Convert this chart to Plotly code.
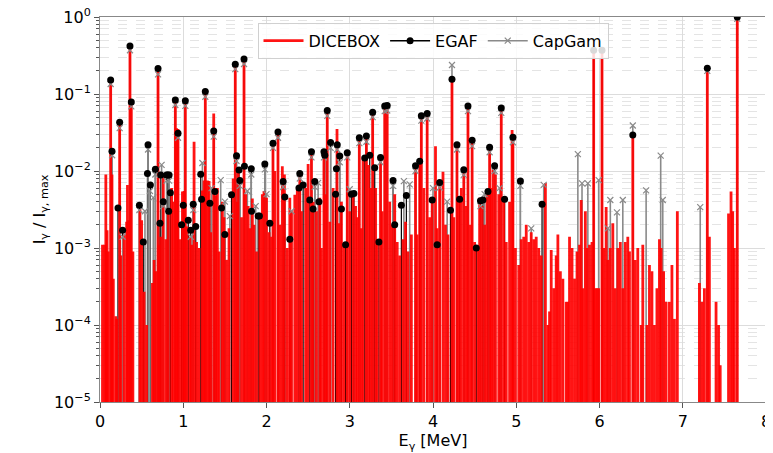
import plotly.graph_objects as go

# DICEBOX simulated line intensities (E in MeV, I / I_max)
DICEBOX_E = [
    0.030, 0.056, 0.070, 0.085, 0.100, 0.128, 0.144, 0.160, 0.190, 0.200, 0.236, 0.250, 0.290, 0.320,
    0.330, 0.345, 0.360, 0.376, 0.395, 0.480, 0.500, 0.530, 0.560, 0.630, 0.650, 0.670, 0.697, 0.710,
    0.730, 0.760, 0.790, 0.820, 0.860, 0.880, 0.905, 0.920, 0.937, 0.960, 0.990, 1.010, 1.025, 1.045,
    1.080, 1.100, 1.130, 1.160, 1.190, 1.230, 1.250, 1.265, 1.290, 1.310, 1.330, 1.366, 1.390, 1.410,
    1.430, 1.470, 1.490, 1.520, 1.550, 1.600, 1.625, 1.650, 1.660, 1.700, 1.730, 1.750, 1.780, 1.800,
    1.830, 1.850, 1.880, 1.920, 1.950, 1.970, 2.000, 2.030, 2.060, 2.078, 2.100, 2.138, 2.160, 2.190,
    2.215, 2.250, 2.280, 2.300, 2.340, 2.370, 2.400, 2.420, 2.470, 2.500, 2.540, 2.560, 2.600, 2.640,
    2.660, 2.690, 2.710, 2.730, 2.760, 2.800, 2.847, 2.870, 2.900, 2.930, 2.970, 3.000, 3.040, 3.070,
    3.090, 3.115, 3.140, 3.160, 3.200, 3.225, 3.250, 3.275, 3.310, 3.330, 3.370, 3.390, 3.420, 3.450,
    3.480, 3.510, 3.540, 3.570, 3.600, 3.640, 3.670, 3.700, 3.740, 3.790, 3.810, 3.840, 3.860, 3.890,
    3.930, 3.960, 3.990, 4.030, 4.050, 4.080, 4.120, 4.150, 4.180, 4.228, 4.250, 4.288, 4.310, 4.340,
    4.370, 4.400, 4.420, 4.450, 4.470, 4.500, 4.540, 4.560, 4.590, 4.620, 4.650, 4.680, 4.700, 4.720,
    4.750, 4.790, 4.820, 4.850, 4.880, 4.920, 4.950, 4.960, 4.990, 5.030, 5.060, 5.090, 5.120, 5.150,
    5.180, 5.210, 5.240, 5.270, 5.300, 5.350, 5.380, 5.400, 5.420, 5.450, 5.480, 5.500, 5.530, 5.560,
    5.600, 5.620, 5.640, 5.670, 5.700, 5.730, 5.760, 5.780, 5.800, 5.830, 5.850, 5.880, 5.910, 5.930,
    5.950, 5.970, 5.990, 6.030, 6.050, 6.080, 6.100, 6.130, 6.160, 6.190, 6.220, 6.250, 6.280, 6.310,
    6.340, 6.360, 6.400, 6.430, 6.460, 6.500, 6.520, 6.570, 6.600, 6.630, 6.660, 6.690, 6.720, 6.740,
    6.770, 6.800, 6.840, 6.870, 6.900, 6.935, 7.200, 7.230, 7.260, 7.295, 7.320, 7.400, 7.430, 7.450,
    7.550, 7.580, 7.600, 7.620, 7.655,
]
DICEBOX_I = [
    0.0011, 0.0011, 0.0090, 0.0017, 0.0009, 0.150, 0.0090, 0.0004, 0.00013, 0.00012, 0.045, 0.0008, 0.0015, 0.0022,
    0.0066, 0.0023, 0.43, 0.082, 0.0009, 0.0032, 0.0023, 0.00027, 0.0001, 0.00035, 0.0007, 0.0005, 0.215, 0.0011,
    0.0014, 0.0090, 0.0013, 0.0028, 0.0060, 0.0040, 0.083, 0.036, 0.035, 0.0013, 0.0054, 0.0055, 0.080, 0.0019,
    0.0014, 0.0011, 0.024, 0.0012, 0.0010, 0.0056, 0.0075, 0.100, 0.0075, 0.0074, 0.0016, 0.056, 0.0048, 0.0060,
    0.0009, 0.0040, 0.0025, 0.0007, 0.0018, 0.0080, 0.240, 0.0040, 0.0100, 0.0025, 0.280, 0.0050, 0.0035, 0.0018,
    0.0044, 0.0020, 0.0009, 0.0026, 0.0050, 0.0055, 0.0045, 0.0016, 0.0014, 0.021, 0.010, 0.030, 0.0020, 0.0115,
    0.0090, 0.0010, 0.0045, 0.0030, 0.0049, 0.0062, 0.0090, 0.0030, 0.0060, 0.0123, 0.0170, 0.0040, 0.0030, 0.0045,
    0.0010, 0.0170, 0.0050, 0.060, 0.0022, 0.0060, 0.035, 0.0021, 0.0040, 0.0011, 0.016, 0.0030, 0.0055, 0.0035,
    0.0025, 0.026, 0.0018, 0.0150, 0.028, 0.0120, 0.0060, 0.057, 0.0060, 0.0012, 0.0140, 0.0030, 0.075, 0.070,
    0.0040, 0.0020, 0.0050, 0.0012, 0.0008, 0.0013, 0.0022, 0.0009, 0.0015, 0.0110, 0.0015, 0.0130, 0.050, 0.0060,
    0.055, 0.0025, 0.0040, 0.021, 0.0018, 0.0070, 0.0098, 0.0020, 0.0015, 0.150, 0.0025, 0.021, 0.0040, 0.0060,
    0.0110, 0.0035, 0.068, 0.0020, 0.024, 0.0012, 0.0010, 0.0045, 0.0035, 0.0020, 0.0050, 0.0190, 0.0060, 0.0105,
    0.0090, 0.0050, 0.065, 0.0040, 0.0012, 0.0040, 0.034, 0.026, 0.0010, 0.0006, 0.0013, 0.0014, 0.0020, 0.0012,
    0.0016, 0.0013, 0.0014, 0.0010, 0.0008, 0.0070, 0.0001, 0.00015, 0.00094, 0.0003, 0.0008, 0.0015, 0.0005, 0.0004,
    0.0002, 0.0002, 0.0014, 0.0010, 0.0004, 0.0009, 0.0011, 0.0042, 0.0003, 0.0030, 0.0010, 0.0011, 0.0012, 0.36,
    0.0003, 0.0003, 0.0003, 0.36, 0.0010, 0.0034, 0.0007, 0.0010, 0.0021, 0.0003, 0.0010, 0.0012, 0.0003, 0.0012,
    0.0014, 0.0009, 0.030, 0.0007, 0.0010, 0.0001, 0.0011, 0.0001, 0.0006, 0.0005, 0.0001, 0.0003, 0.0013, 0.0010,
    0.0005, 0.0002, 0.0002, 0.0006, 0.00012, 0.0030, 0.00035, 0.0002, 0.0003, 0.215, 0.0014, 0.0002, 0.0001, 0.00003,
    0.0028, 0.0054, 0.0030, 0.0010, 0.95,
]

# EGAF evaluated intensities
EGAF_E = [
    0.128, 0.144, 0.216, 0.236, 0.272, 0.360, 0.376, 0.473, 0.520, 0.570, 0.577, 0.605, 0.665, 0.697,
    0.720, 0.730, 0.760, 0.800, 0.815, 0.825, 0.830, 0.845, 0.905, 0.937, 0.980, 1.000, 1.025, 1.060,
    1.090, 1.120, 1.150, 1.210, 1.220, 1.265, 1.320, 1.366, 1.380, 1.460, 1.500, 1.580, 1.625, 1.640,
    1.670, 1.680, 1.730, 1.735, 1.817, 1.820, 1.900, 1.915, 1.980, 2.040, 2.078, 2.138, 2.200, 2.220,
    2.280, 2.390, 2.400, 2.440, 2.520, 2.540, 2.560, 2.580, 2.630, 2.690, 2.700, 2.730, 2.770, 2.830,
    2.840, 2.850, 2.880, 2.900, 2.950, 2.970, 3.020, 3.050, 3.115, 3.180, 3.200, 3.240, 3.275, 3.300,
    3.350, 3.370, 3.420, 3.450, 3.520, 3.540, 3.620, 3.680, 3.790, 3.840, 3.860, 3.930, 3.990, 4.050,
    4.080, 4.210, 4.228, 4.288, 4.320, 4.370, 4.420, 4.470, 4.520, 4.570, 4.600, 4.660, 4.680, 4.740,
    4.820, 4.860, 4.960, 5.050, 5.310, 5.930, 6.030, 6.400, 7.295, 7.655,
]
EGAF_I = [
    0.152, 0.018, 0.0033, 0.043, 0.0017, 0.42, 0.079, 0.0036, 0.0012, 0.0093, 0.022, 0.0066, 0.0105, 0.214,
    0.0021, 0.0089, 0.0040, 0.0089, 0.0089, 0.0030, 0.0089, 0.0052, 0.0835, 0.031, 0.0020, 0.0036, 0.082, 0.0023,
    0.0017, 0.0037, 0.0019, 0.0091, 0.0043, 0.108, 0.0038, 0.033, 0.0054, 0.0033, 0.0015, 0.0049, 0.243, 0.0158,
    0.0103, 0.0075, 0.285, 0.0115, 0.0107, 0.0030, 0.0026, 0.0026, 0.0123, 0.0021, 0.023, 0.032, 0.0073, 0.0046,
    0.0013, 0.0060, 0.0093, 0.0066, 0.0042, 0.0178, 0.0032, 0.0073, 0.0040, 0.0178, 0.016, 0.061, 0.0234, 0.0050,
    0.0107, 0.022, 0.0157, 0.0032, 0.0011, 0.0173, 0.0050, 0.0051, 0.027, 0.0148, 0.0285, 0.016, 0.058, 0.011,
    0.0012, 0.015, 0.070, 0.071, 0.0075, 0.0020, 0.0036, 0.0048, 0.0117, 0.0134, 0.052, 0.056, 0.0042, 0.0011,
    0.0071, 0.0031, 0.155, 0.022, 0.0043, 0.0104, 0.070, 0.025, 0.0010, 0.0041, 0.0042, 0.0054, 0.0203, 0.0117,
    0.066, 0.0043, 0.0275, 0.0074, 0.0037, 0.37, 0.37, 0.0293, 0.216, 1.0,
]

# CapGam evaluated intensities
CAPGAM_E = [
    0.128, 0.146, 0.236, 0.272, 0.360, 0.376, 0.473, 0.540, 0.577, 0.600, 0.640, 0.665, 0.697, 0.740,
    0.760, 0.800, 0.830, 0.905, 0.937, 1.025, 1.090, 1.120, 1.230, 1.265, 1.340, 1.366, 1.450, 1.500,
    1.560, 1.625, 1.640, 1.680, 1.730, 1.770, 1.817, 1.870, 1.980, 2.000, 2.078, 2.138, 2.200, 2.300,
    2.400, 2.540, 2.580, 2.620, 2.690, 2.730, 2.770, 2.850, 2.880, 2.970, 3.000, 3.115, 3.200, 3.275,
    3.370, 3.420, 3.450, 3.520, 3.650, 3.720, 3.790, 3.860, 3.930, 4.000, 4.080, 4.170, 4.228, 4.288,
    4.370, 4.420, 4.470, 4.570, 4.620, 4.680, 4.740, 4.800, 4.820, 4.960, 5.050, 5.180, 5.330, 5.740,
    5.790, 5.860, 5.990, 6.100, 6.130, 6.210, 6.280, 6.400, 6.560, 6.735, 6.760, 7.210, 7.295, 7.655,
]
CAPGAM_I = [
    0.135, 0.016, 0.036, 0.0014, 0.37, 0.069, 0.0031, 0.0030, 0.019, 0.0055, 0.0045, 0.0090, 0.18, 0.0120,
    0.0035, 0.0075, 0.0075, 0.072, 0.027, 0.070, 0.0014, 0.0031, 0.0127, 0.092, 0.0060, 0.028, 0.0076, 0.0040,
    0.0026, 0.21, 0.0135, 0.0064, 0.245, 0.0055, 0.0090, 0.0035, 0.0105, 0.0050, 0.020, 0.027, 0.0062, 0.0030,
    0.0080, 0.0150, 0.0062, 0.0070, 0.015, 0.052, 0.020, 0.019, 0.013, 0.0150, 0.0058, 0.023, 0.024, 0.050,
    0.013, 0.060, 0.061, 0.0064, 0.0074, 0.0067, 0.0100, 0.045, 0.048, 0.0060, 0.0061, 0.0040, 0.238, 0.019,
    0.0089, 0.060, 0.021, 0.0035, 0.0050, 0.0175, 0.0100, 0.0060, 0.057, 0.0236, 0.0064, 0.0018, 0.0066, 0.0166,
    0.0069, 0.0069, 0.0076, 0.0018, 0.0042, 0.0029, 0.0042, 0.039, 0.0056, 0.0158, 0.0042, 0.0034, 0.20, 0.95,
]

Y_TICKS = [1e-5, 1e-4, 1e-3, 1e-2, 1e-1, 1e0]
Y_LABELS = ["10<sup>−5</sup>", "10<sup>−4</sup>", "10<sup>−3</sup>", "10<sup>−2</sup>", "10<sup>−1</sup>", "10<sup>0</sup>"]
X_TICKS = [0, 1, 2, 3, 4, 5, 6, 7, 8]

FLOOR = 1e-7
FONT = "DejaVu Sans"


def stems(energies, intens):
    xs, ys = [], []
    for e, i in zip(energies, intens):
        xs += [e, e, None]
        ys += [FLOOR, i, None]
    return xs, ys


def tops(energies, intens):
    xs, ys = [], []
    for e, i in zip(energies, intens):
        xs += [e, None]
        ys += [i, None]
    return xs, ys


fig = go.Figure()

ex, ey = stems(EGAF_E, EGAF_I)
fig.add_trace(go.Scatter(x=ex, y=ey, mode="lines", line=dict(color="black", width=1.2),
                         showlegend=False, hoverinfo="skip"))
cx, cy = stems(CAPGAM_E, CAPGAM_I)
fig.add_trace(go.Scatter(x=cx, y=cy, mode="lines", line=dict(color="#8a8a8a", width=1.6),
                         showlegend=False, hoverinfo="skip"))
dx, dy = stems(DICEBOX_E, DICEBOX_I)
fig.add_trace(go.Scatter(x=dx, y=dy, mode="lines", name="DICEBOX", legendrank=1,
                         line=dict(color="rgba(255,0,0,0.92)", width=2.8)))

tx, ty = tops(CAPGAM_E, CAPGAM_I)
fig.add_trace(go.Scatter(x=tx, y=ty, mode="lines+markers", name="CapGam", legendrank=3,
                         line=dict(color="#8a8a8a", width=1.6),
                         marker=dict(symbol="x-thin-open", size=6, line=dict(color="#7a7a7a", width=1.2))))
tx, ty = tops(EGAF_E, EGAF_I)
fig.add_trace(go.Scatter(x=tx, y=ty, mode="lines+markers", name="EGAF", legendrank=2,
                         line=dict(color="black", width=1.6),
                         marker=dict(symbol="circle", size=7, color="black")))

# page body adds an 8px margin, so the figure is sized and offset to compensate
fig.update_layout(
    width=765, height=445,
    margin=dict(l=92, r=7, t=9, b=51),
    paper_bgcolor="white", plot_bgcolor="white",
    font=dict(family=FONT, size=16, color="black"),
    showlegend=True,
    legend=dict(orientation="h", x=0.5, xanchor="center", y=0.985, yanchor="top",
                bgcolor="rgba(255,255,255,0.85)", bordercolor="#d0d0d0", borderwidth=1,
                font=dict(family=FONT, size=16), itemwidth=40),
)
fig.update_xaxes(
    range=[0, 8], tickvals=X_TICKS, ticks="outside", ticklen=5, tickcolor="#555",
    showline=True, linecolor="#888", linewidth=1, mirror=True, automargin=False,
    ticklabeloverflow="allow",
    showgrid=True, gridcolor="#dcdcdc", gridwidth=1, zeroline=False,
    title=dict(text="E<sub>γ</sub> [MeV]", standoff=0, font=dict(size=16)),
    tickfont=dict(size=16),
)
fig.update_yaxes(
    type="log", range=[-5, 0], tickvals=Y_TICKS, ticktext=Y_LABELS,
    ticks="outside", ticklen=5, tickcolor="#555", automargin=False,
    ticklabeloverflow="allow",
    showline=True, linecolor="#888", linewidth=1, mirror=True,
    showgrid=True, gridcolor="#dcdcdc", gridwidth=1, zeroline=False,
    minor=dict(ticks="outside", ticklen=3, tickcolor="#555", showgrid=True,
               gridcolor="#e4e4e4", griddash="dash", dtick="D1"),
    title=dict(text="I<sub>γ</sub> / I<sub>γ, max</sub>", standoff=4, font=dict(size=16)),
    tickfont=dict(size=16),
)

fig.write_html("out.html")
